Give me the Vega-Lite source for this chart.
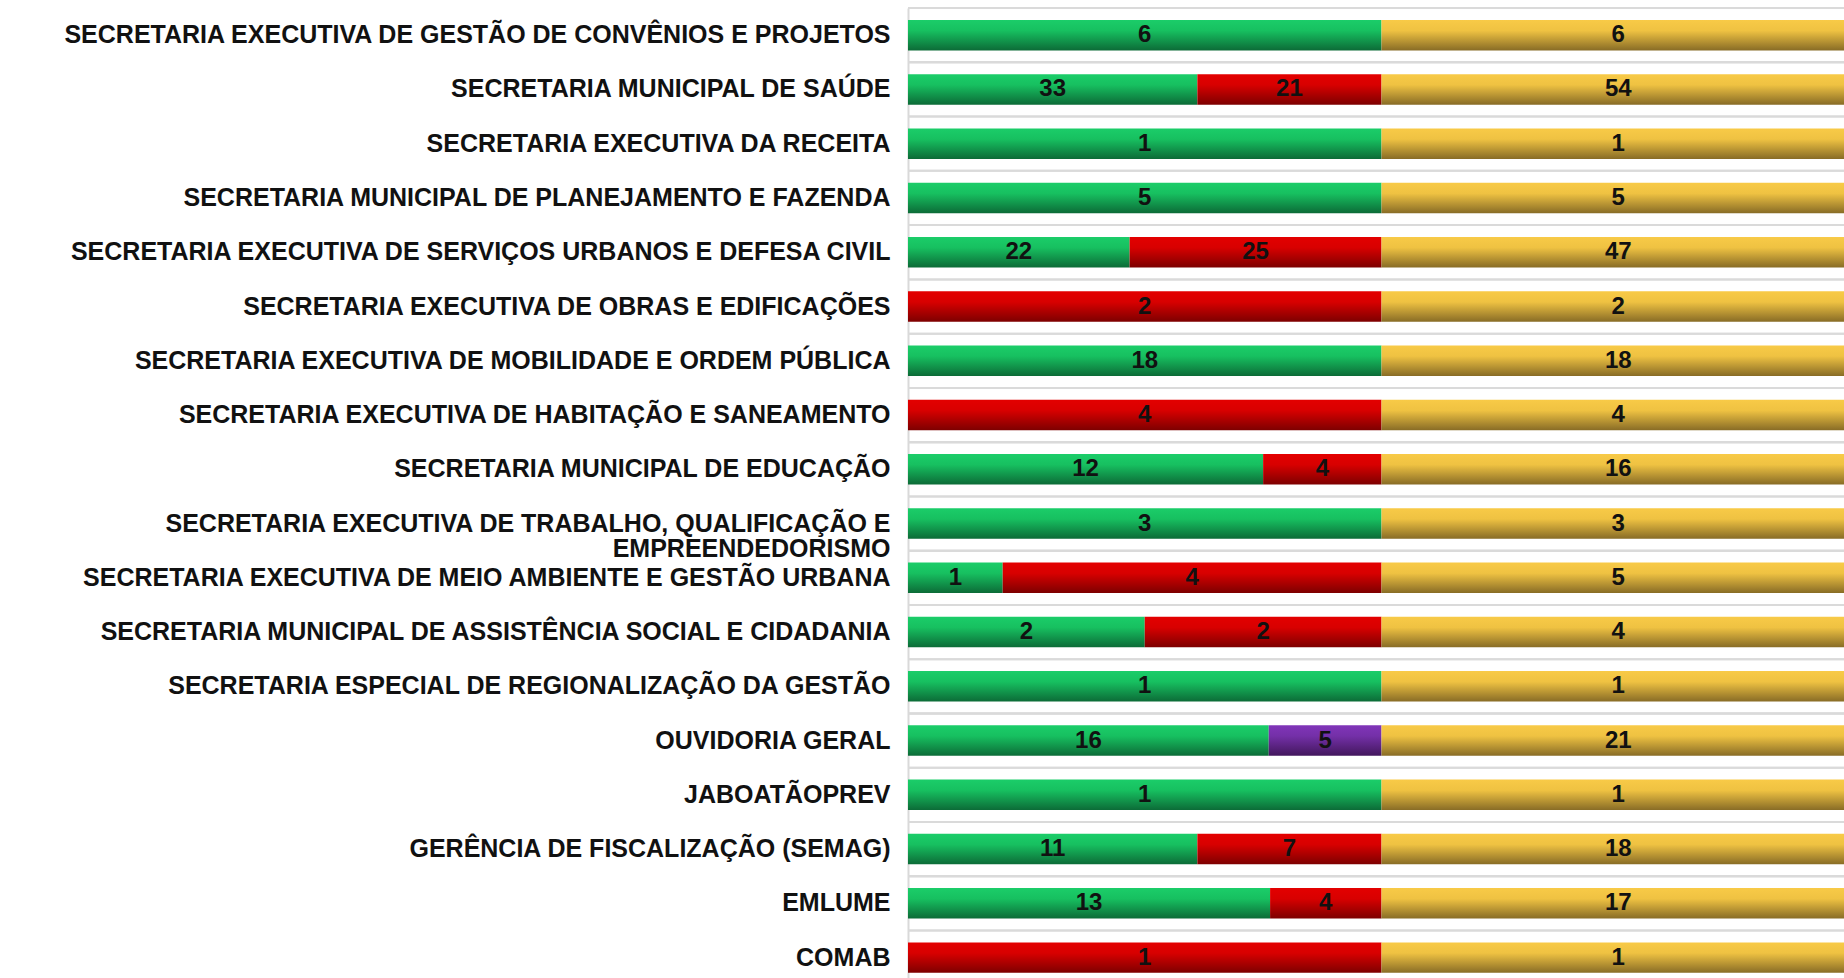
{
  "$schema": "https://vega.github.io/schema/vega-lite/v6.json",
  "width": 936,
  "height": 970,
  "autosize": {"type": "none"},
  "padding": {"left": 908, "top": 8, "right": 0, "bottom": 0},
  "background": "white",
  "config": {"view": {"stroke": null}},
  "data": {
    "values": [
      {"org": "SECRETARIA EXECUTIVA DE GESTÃO DE CONVÊNIOS E PROJETOS", "cat": "Atendidas", "value": 6},
      {"org": "SECRETARIA EXECUTIVA DE GESTÃO DE CONVÊNIOS E PROJETOS", "cat": "Total", "value": 6},
      {"org": "SECRETARIA MUNICIPAL DE SAÚDE", "cat": "Atendidas", "value": 33},
      {"org": "SECRETARIA MUNICIPAL DE SAÚDE", "cat": "Pendentes", "value": 21},
      {"org": "SECRETARIA MUNICIPAL DE SAÚDE", "cat": "Total", "value": 54},
      {"org": "SECRETARIA EXECUTIVA DA RECEITA", "cat": "Atendidas", "value": 1},
      {"org": "SECRETARIA EXECUTIVA DA RECEITA", "cat": "Total", "value": 1},
      {"org": "SECRETARIA MUNICIPAL DE PLANEJAMENTO E FAZENDA", "cat": "Atendidas", "value": 5},
      {"org": "SECRETARIA MUNICIPAL DE PLANEJAMENTO E FAZENDA", "cat": "Total", "value": 5},
      {"org": "SECRETARIA EXECUTIVA DE SERVIÇOS URBANOS E DEFESA CIVIL", "cat": "Atendidas", "value": 22},
      {"org": "SECRETARIA EXECUTIVA DE SERVIÇOS URBANOS E DEFESA CIVIL", "cat": "Pendentes", "value": 25},
      {"org": "SECRETARIA EXECUTIVA DE SERVIÇOS URBANOS E DEFESA CIVIL", "cat": "Total", "value": 47},
      {"org": "SECRETARIA EXECUTIVA DE OBRAS E EDIFICAÇÕES", "cat": "Pendentes", "value": 2},
      {"org": "SECRETARIA EXECUTIVA DE OBRAS E EDIFICAÇÕES", "cat": "Total", "value": 2},
      {"org": "SECRETARIA EXECUTIVA DE MOBILIDADE E ORDEM PÚBLICA", "cat": "Atendidas", "value": 18},
      {"org": "SECRETARIA EXECUTIVA DE MOBILIDADE E ORDEM PÚBLICA", "cat": "Total", "value": 18},
      {"org": "SECRETARIA EXECUTIVA DE HABITAÇÃO E SANEAMENTO", "cat": "Pendentes", "value": 4},
      {"org": "SECRETARIA EXECUTIVA DE HABITAÇÃO E SANEAMENTO", "cat": "Total", "value": 4},
      {"org": "SECRETARIA MUNICIPAL DE EDUCAÇÃO", "cat": "Atendidas", "value": 12},
      {"org": "SECRETARIA MUNICIPAL DE EDUCAÇÃO", "cat": "Pendentes", "value": 4},
      {"org": "SECRETARIA MUNICIPAL DE EDUCAÇÃO", "cat": "Total", "value": 16},
      {"org": "SECRETARIA EXECUTIVA DE TRABALHO, QUALIFICAÇÃO E EMPREENDEDORISMO", "cat": "Atendidas", "value": 3},
      {"org": "SECRETARIA EXECUTIVA DE TRABALHO, QUALIFICAÇÃO E EMPREENDEDORISMO", "cat": "Total", "value": 3},
      {"org": "SECRETARIA EXECUTIVA DE MEIO AMBIENTE E GESTÃO URBANA", "cat": "Atendidas", "value": 1},
      {"org": "SECRETARIA EXECUTIVA DE MEIO AMBIENTE E GESTÃO URBANA", "cat": "Pendentes", "value": 4},
      {"org": "SECRETARIA EXECUTIVA DE MEIO AMBIENTE E GESTÃO URBANA", "cat": "Total", "value": 5},
      {"org": "SECRETARIA MUNICIPAL DE ASSISTÊNCIA SOCIAL E CIDADANIA", "cat": "Atendidas", "value": 2},
      {"org": "SECRETARIA MUNICIPAL DE ASSISTÊNCIA SOCIAL E CIDADANIA", "cat": "Pendentes", "value": 2},
      {"org": "SECRETARIA MUNICIPAL DE ASSISTÊNCIA SOCIAL E CIDADANIA", "cat": "Total", "value": 4},
      {"org": "SECRETARIA ESPECIAL DE REGIONALIZAÇÃO DA GESTÃO", "cat": "Atendidas", "value": 1},
      {"org": "SECRETARIA ESPECIAL DE REGIONALIZAÇÃO DA GESTÃO", "cat": "Total", "value": 1},
      {"org": "OUVIDORIA GERAL", "cat": "Atendidas", "value": 16},
      {"org": "OUVIDORIA GERAL", "cat": "Reencaminhadas", "value": 5},
      {"org": "OUVIDORIA GERAL", "cat": "Total", "value": 21},
      {"org": "JABOATÃOPREV", "cat": "Atendidas", "value": 1},
      {"org": "JABOATÃOPREV", "cat": "Total", "value": 1},
      {"org": "GERÊNCIA DE FISCALIZAÇÃO (SEMAG)", "cat": "Atendidas", "value": 11},
      {"org": "GERÊNCIA DE FISCALIZAÇÃO (SEMAG)", "cat": "Pendentes", "value": 7},
      {"org": "GERÊNCIA DE FISCALIZAÇÃO (SEMAG)", "cat": "Total", "value": 18},
      {"org": "EMLUME", "cat": "Atendidas", "value": 13},
      {"org": "EMLUME", "cat": "Pendentes", "value": 4},
      {"org": "EMLUME", "cat": "Total", "value": 17},
      {"org": "COMAB", "cat": "Pendentes", "value": 1},
      {"org": "COMAB", "cat": "Total", "value": 1}
    ]
  },
  "encoding": {
    "y": {
      "field": "org",
      "type": "nominal",
      "sort": null,
      "scale": {"paddingInner": 0.438, "paddingOuter": 0.1575, "align": 0.7},
      "axis": {
        "title": null,
        "ticks": false,
        "grid": false,
        "domain": true,
        "domainColor": "#d9d9d9",
        "domainWidth": 2,
        "labelFont": "Liberation Sans",
        "labelFontWeight": "bold",
        "labelFontSize": 25,
        "labelColor": "#111111",
        "labelPadding": 18,
        "labelLimit": 1000,
        "labelLineHeight": 25,
        "labelExpr": "datum.value == 'SECRETARIA EXECUTIVA DE TRABALHO, QUALIFICAÇÃO E EMPREENDEDORISMO' ? ['SECRETARIA EXECUTIVA DE TRABALHO, QUALIFICAÇÃO E', 'EMPREENDEDORISMO'] : datum.value"
      }
    }
  },
  "layer": [
    {
      "mark": {"type": "rule", "color": "#dadada", "strokeWidth": 2, "yOffset": -27.13},
      "encoding": {}
    },
    {
      "mark": {"type": "bar", "clip": true},
      "encoding": {
        "x": {
          "field": "value",
          "type": "quantitative",
          "stack": "normalize",
          "scale": {"domain": [0, 0.9884], "nice": false, "zero": true},
          "axis": null
        },
        "detail": {"field": "cat"},
        "order": {"field": "cat", "sort": "ascending"},
        "color": {
          "condition": [
            {"test": "datum.cat === 'Atendidas'", "value": {"gradient": "linear", "x1": 0, "y1": 0, "x2": 0, "y2": 1, "stops": [{"offset": 0, "color": "#1bcd69"}, {"offset": 0.35, "color": "#17c060"}, {"offset": 1, "color": "#0c6b37"}]}},
            {"test": "datum.cat === 'Pendentes'", "value": {"gradient": "linear", "x1": 0, "y1": 0, "x2": 0, "y2": 1, "stops": [{"offset": 0, "color": "#e30000"}, {"offset": 0.35, "color": "#d80000"}, {"offset": 1, "color": "#7d0000"}]}},
            {"test": "datum.cat === 'Reencaminhadas'", "value": {"gradient": "linear", "x1": 0, "y1": 0, "x2": 0, "y2": 1, "stops": [{"offset": 0, "color": "#8035b8"}, {"offset": 0.35, "color": "#7430a8"}, {"offset": 1, "color": "#42175c"}]}}
          ],
          "value": {"gradient": "linear", "x1": 0, "y1": 0, "x2": 0, "y2": 1, "stops": [{"offset": 0, "color": "#f8ca47"}, {"offset": 0.35, "color": "#efc242"}, {"offset": 1, "color": "#886c26"}]}
        }
      }
    },
    {
      "mark": {"type": "text", "font": "Liberation Sans", "fontWeight": "bold", "fontSize": 24, "color": "#111111", "baseline": "middle", "align": "center"},
      "encoding": {
        "x": {
          "field": "value",
          "type": "quantitative",
          "stack": "normalize",
          "bandPosition": 0.5
        },
        "detail": {"field": "cat"},
        "order": {"field": "cat", "sort": "ascending"},
        "text": {"field": "value", "type": "quantitative"}
      }
    }
  ]
}
